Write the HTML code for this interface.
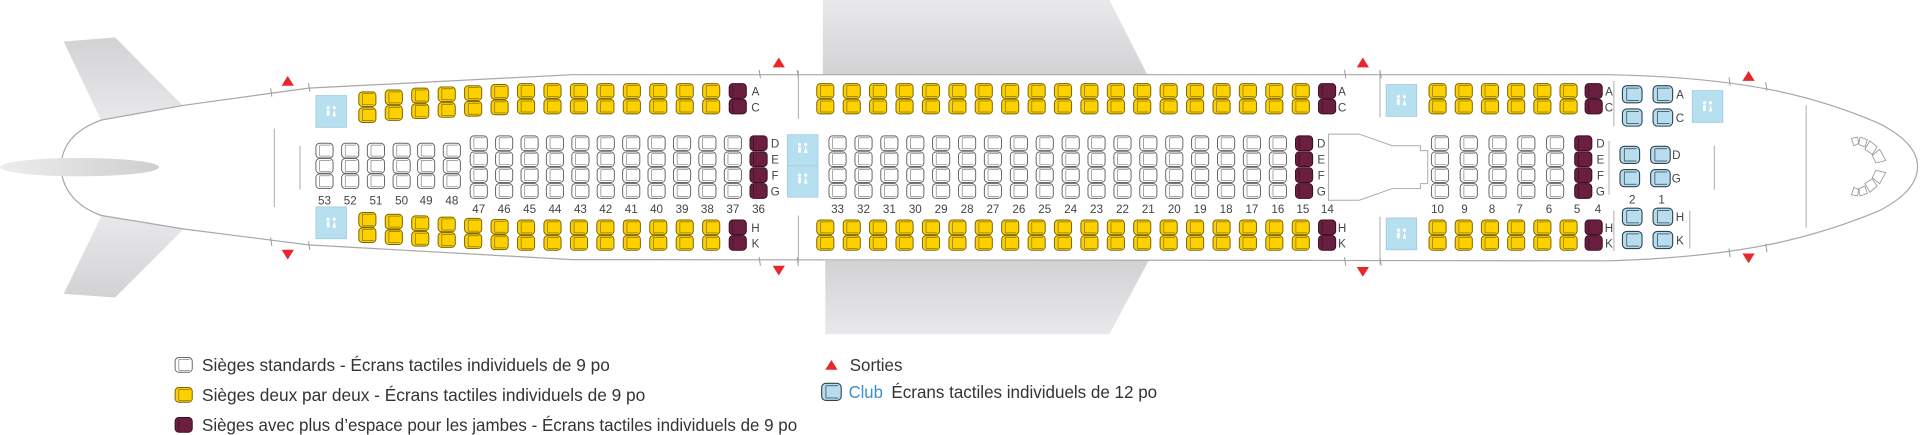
<!DOCTYPE html>
<html><head><meta charset="utf-8"><style>html,body{margin:0;padding:0;background:#fff}svg{display:block}</style></head>
<body>
<svg width="1920" height="435" viewBox="0 0 1568 355.25" xmlns="http://www.w3.org/2000/svg" xmlns:xlink="http://www.w3.org/1999/xlink" font-family="Liberation Sans, sans-serif">
<defs>
<linearGradient id="wg" x1="0" y1="0" x2="0" y2="1"><stop offset="0" stop-color="#e9e9eb"/><stop offset="1" stop-color="#d2d2d4"/></linearGradient>
<linearGradient id="wg2" x1="0" y1="1" x2="0" y2="0"><stop offset="0" stop-color="#e9e9eb"/><stop offset="1" stop-color="#d2d2d4"/></linearGradient>
<linearGradient id="eg" x1="0" y1="0" x2="1" y2="0"><stop offset="0" stop-color="#ececec"/><stop offset="1" stop-color="#cfcfcf"/></linearGradient>
<g id="sy"><rect x="-7" y="-6" width="14" height="12" rx="3" fill="#fdd000" stroke="#7a6500" stroke-width=".8"/><path d="M-4 -4.5v9M-4 -4.5h9M-4 4.5h9" fill="none" stroke="#8a7400" stroke-width=".6"/></g>
<g id="sp"><rect x="-7" y="-6" width="14" height="12" rx="3" fill="#6b1f40" stroke="#3a0c20" stroke-width=".8"/><path d="M-4 -4.5v9" fill="none" stroke="#3a0c20" stroke-width=".6"/></g>
<g id="sw"><rect x="-7" y="-6" width="14" height="12" rx="3" fill="#fff" stroke="#666" stroke-width=".8"/><path d="M-4 -4.5v9M-4 -4.5h9M-4 4.5h9" fill="none" stroke="#888" stroke-width=".6"/></g>
<g id="sc"><rect x="-8" y="-7" width="16" height="14" rx="3.5" fill="#b7ddef" stroke="#2c4350" stroke-width=".9"/><path d="M-4.5 -5v10M-4.5 -5h10M-4.5 5h10" fill="none" stroke="#2c4350" stroke-width=".6"/></g>
<g id="cY"><use xlink:href="#sy" y="74.3"/><use xlink:href="#sy" y="87"/><use xlink:href="#sy" y="185.7"/><use xlink:href="#sy" y="198.4"/></g>
<g id="cP"><use xlink:href="#sp" y="74.3"/><use xlink:href="#sp" y="87"/><use xlink:href="#sp" y="185.7"/><use xlink:href="#sp" y="198.4"/></g>
<g id="cW"><use xlink:href="#sw" y="117"/><use xlink:href="#sw" y="130"/><use xlink:href="#sw" y="143"/><use xlink:href="#sw" y="156"/></g>
<g id="cWP"><use xlink:href="#sp" y="117"/><use xlink:href="#sp" y="130"/><use xlink:href="#sp" y="143"/><use xlink:href="#sp" y="156"/></g>
<g id="cA"><use xlink:href="#sw" y="123"/><use xlink:href="#sw" y="135.5"/><use xlink:href="#sw" y="148"/></g>
<g id="lav"><rect x="0" y="0" width="25" height="26" fill="#b6dff0" stroke="#9cc7da" stroke-width=".6"/><g fill="#fff"><circle cx="10" cy="10" r="1.3"/><rect x="8.8" y="11.8" width="2.4" height="5" rx="1"/><circle cx="15" cy="10" r="1.3"/><path d="M13.5 17 L15 11.8 L16.5 17Z"/></g></g>
<path id="tu" d="M-5 4 L0 -4 L5 4Z" fill="#e8262b"/>
<path id="td" d="M-5 -4 L0 4 L5 -4Z" fill="#e8262b"/>
</defs>

<!-- wings and fins -->
<path d="M672 0 L906 0 L937 61 L672 61Z" fill="url(#wg)"/>
<path d="M674 213 L938 213 L906 273 L674 273Z" fill="url(#wg2)"/>
<path d="M52 34 L94 30.5 L150 87 L83 99Z" fill="url(#wg2)"/>
<path d="M83 176 L150 187 L94 243 L52 240Z" fill="url(#wg)"/>

<!-- fuselage -->
<path d="M83 98 C60 106 50 120 50 136 C50 152 60 168 83 176 L150 187 L252 200 L467 212 L1312 213 C1420 210 1480 195 1535 172 Q1566 156 1566 136 Q1566 117 1535 101 C1480 77 1420 63 1312 61 L467 61 L252 72 L150 86Z" fill="#fff" stroke="#a8a8a8" stroke-width="1"/>
<ellipse cx="65" cy="136.5" rx="65" ry="7.5" fill="url(#eg)"/>

<!-- ticks -->
<g stroke="#999" stroke-width=".8">
<path d="M221 72 l1 7M252 68 l1 7M221 194 l1 7M252 197 l1 7"/>
<path d="M620 57 l1 7M651 57 l1 7M620 210 l1 7M651 210 l1 7"/>
<path d="M1098 57 l1 7M1127 57 l1 7M1098 210 l1 7M1127 210 l1 7"/>
<path d="M1412 63 l1 7M1442 67 l1 7M1412 203 l1 7M1442 199 l1 7"/>
</g>
<!-- partitions -->
<g stroke="#aaa" stroke-width=".8">
<path d="M224 105 V169M245 119 V155"/>
<path d="M652 58 V97M652 176 V215"/>
<path d="M1127 57 V96M1127 177 V216"/>
<path d="M1318 66 V103M1318 172 V205M1314 115 V159"/>
<path d="M1380 172 V203M1400 119 V155"/>
<path d="M1475 86 V186"/>
</g>
<!-- galley -->
<path d="M1085 109.5 H1110 L1137 119 H1160 V123 H1166 V150 H1160 V154 H1137 L1110 163.5 H1085Z" fill="#fff" stroke="#aaa" stroke-width=".8"/>
<!-- cockpit seats -->
<g fill="#fff" stroke="#999" stroke-width=".7">
<path d="M1512 113 l5 -1 l1 5 l-4 2Z M1519 112 l6 2 l-2 6 l-5 -2Z M1527 115 l6 5 l-4 6 l-6 -4Z M1535 122 l5 9 l-8 2 l-3 -6Z"/>
<path d="M1512 159 l5 1 l1 -5 l-4 -2Z M1519 160 l6 -2 l-2 -6 l-5 2Z M1527 157 l6 -5 l-4 -6 l-6 4Z M1535 150 l5 -9 l-8 -2 l-3 6Z"/>
</g>

<!-- lavs -->
<use xlink:href="#lav" x="258" y="78"/>
<use xlink:href="#lav" x="258" y="169"/>
<rect x="643" y="110" width="25" height="51" fill="#b6dff0" stroke="#9cc7da" stroke-width=".6"/>
<line x1="643" y1="135.5" x2="668" y2="135.5" stroke="#9cc7da" stroke-width=".6"/>
<use xlink:href="#lav" x="643" y="110" transform="translate(0,0)" opacity="0"/>
<g fill="#fff"><circle cx="653" cy="118" r="1.3"/><rect x="651.8" y="119.8" width="2.4" height="5" rx="1"/><circle cx="658" cy="118" r="1.3"/><path d="M656.5 125 L658 119.8 L659.5 125Z"/><circle cx="653" cy="143" r="1.3"/><rect x="651.8" y="144.8" width="2.4" height="5" rx="1"/><circle cx="658" cy="143" r="1.3"/><path d="M656.5 150 L658 144.8 L659.5 150Z"/></g>
<use xlink:href="#lav" x="1132" y="69"/>
<use xlink:href="#lav" x="1132" y="178"/>
<use xlink:href="#lav" x="1382" y="74"/>

<!-- exits -->
<use xlink:href="#tu" x="235" y="66"/><use xlink:href="#td" x="235" y="208"/>
<use xlink:href="#tu" x="636" y="51"/><use xlink:href="#td" x="636" y="221"/>
<use xlink:href="#tu" x="1113" y="51"/><use xlink:href="#td" x="1113" y="222"/>
<use xlink:href="#tu" x="1428" y="62"/><use xlink:href="#td" x="1428" y="211"/>

<!-- aft rows 53-48 -->
<use xlink:href="#cA" x="265"/><use xlink:href="#cA" x="286"/><use xlink:href="#cA" x="307"/><use xlink:href="#cA" x="328"/><use xlink:href="#cA" x="348"/><use xlink:href="#cA" x="369"/>

<!-- aft top/bottom staggered -->
<use xlink:href="#sy" x="300" y="81"/><use xlink:href="#sy" x="300" y="94"/><use xlink:href="#sy" x="300" y="179.5"/><use xlink:href="#sy" x="300" y="192"/>
<use xlink:href="#sy" x="321.6" y="79.5"/><use xlink:href="#sy" x="321.6" y="92.3"/><use xlink:href="#sy" x="321.6" y="181"/><use xlink:href="#sy" x="321.6" y="193.7"/>
<use xlink:href="#sy" x="343.2" y="78"/><use xlink:href="#sy" x="343.2" y="90.8"/><use xlink:href="#sy" x="343.2" y="182.3"/><use xlink:href="#sy" x="343.2" y="195"/>
<use xlink:href="#sy" x="364.8" y="77"/><use xlink:href="#sy" x="364.8" y="89.8"/><use xlink:href="#sy" x="364.8" y="183.3"/><use xlink:href="#sy" x="364.8" y="196"/>
<use xlink:href="#sy" x="386.4" y="76"/><use xlink:href="#sy" x="386.4" y="88.8"/><use xlink:href="#sy" x="386.4" y="184.3"/><use xlink:href="#sy" x="386.4" y="197"/>
<use xlink:href="#sy" x="408" y="75"/><use xlink:href="#sy" x="408" y="87.7"/><use xlink:href="#sy" x="408" y="185.2"/><use xlink:href="#sy" x="408" y="197.9"/>
<use xlink:href="#cY" x="429.6"/><use xlink:href="#cY" x="451.2"/><use xlink:href="#cY" x="472.8"/><use xlink:href="#cY" x="494.4"/><use xlink:href="#cY" x="516"/><use xlink:href="#cY" x="537.6"/><use xlink:href="#cY" x="559.2"/><use xlink:href="#cY" x="580.8"/>
<use xlink:href="#cP" x="602.5"/>

<!-- aft middle -->
<use xlink:href="#cW" x="391"/><use xlink:href="#cW" x="411.7"/><use xlink:href="#cW" x="432.5"/><use xlink:href="#cW" x="453.2"/><use xlink:href="#cW" x="474"/><use xlink:href="#cW" x="494.7"/><use xlink:href="#cW" x="515.5"/><use xlink:href="#cW" x="536.2"/><use xlink:href="#cW" x="557"/><use xlink:href="#cW" x="577.7"/><use xlink:href="#cW" x="598.5"/>
<use xlink:href="#cWP" x="619.5"/>

<!-- mid top/bottom -->
<use xlink:href="#cY" x="674"/><use xlink:href="#cY" x="695.6"/><use xlink:href="#cY" x="717.1"/><use xlink:href="#cY" x="738.7"/><use xlink:href="#cY" x="760.3"/><use xlink:href="#cY" x="781.9"/><use xlink:href="#cY" x="803.4"/><use xlink:href="#cY" x="825"/><use xlink:href="#cY" x="846.6"/><use xlink:href="#cY" x="868.1"/><use xlink:href="#cY" x="889.7"/><use xlink:href="#cY" x="911.3"/><use xlink:href="#cY" x="932.8"/><use xlink:href="#cY" x="954.4"/><use xlink:href="#cY" x="976"/><use xlink:href="#cY" x="997.6"/><use xlink:href="#cY" x="1019.1"/><use xlink:href="#cY" x="1040.7"/><use xlink:href="#cY" x="1062.3"/>
<use xlink:href="#cP" x="1083.8"/>
<!-- mid middle -->
<use xlink:href="#cW" x="684"/><use xlink:href="#cW" x="705.2"/><use xlink:href="#cW" x="726.3"/><use xlink:href="#cW" x="747.5"/><use xlink:href="#cW" x="768.6"/><use xlink:href="#cW" x="789.8"/><use xlink:href="#cW" x="810.9"/><use xlink:href="#cW" x="832.1"/><use xlink:href="#cW" x="853.2"/><use xlink:href="#cW" x="874.4"/><use xlink:href="#cW" x="895.5"/><use xlink:href="#cW" x="916.7"/><use xlink:href="#cW" x="937.8"/><use xlink:href="#cW" x="959"/><use xlink:href="#cW" x="980.1"/><use xlink:href="#cW" x="1001.3"/><use xlink:href="#cW" x="1022.4"/><use xlink:href="#cW" x="1043.6"/>
<use xlink:href="#cWP" x="1065"/>

<!-- forward economy -->
<use xlink:href="#cY" x="1174"/><use xlink:href="#cY" x="1195.4"/><use xlink:href="#cY" x="1216.8"/><use xlink:href="#cY" x="1238.2"/><use xlink:href="#cY" x="1259.6"/><use xlink:href="#cY" x="1281"/>
<use xlink:href="#cP" x="1301.5"/>
<use xlink:href="#cW" x="1176"/><use xlink:href="#cW" x="1199.5"/><use xlink:href="#cW" x="1223"/><use xlink:href="#cW" x="1246.5"/><use xlink:href="#cW" x="1270"/>
<use xlink:href="#cWP" x="1293"/>

<!-- club -->
<use xlink:href="#sc" x="1333" y="77"/><use xlink:href="#sc" x="1358" y="77"/><use xlink:href="#sc" x="1333" y="96"/><use xlink:href="#sc" x="1358" y="96"/>
<use xlink:href="#sc" x="1331" y="126.5"/><use xlink:href="#sc" x="1356" y="126.5"/><use xlink:href="#sc" x="1331" y="145.5"/><use xlink:href="#sc" x="1356" y="145.5"/>
<use xlink:href="#sc" x="1333" y="177"/><use xlink:href="#sc" x="1358" y="177"/><use xlink:href="#sc" x="1333" y="196"/><use xlink:href="#sc" x="1358" y="196"/>

<!-- labels -->
<g font-size="9.5" fill="#444" text-anchor="middle">
<text x="265" y="167">53</text><text x="286" y="167">52</text><text x="307" y="167">51</text><text x="328" y="167">50</text><text x="348" y="167">49</text><text x="369" y="167">48</text>
<text x="391" y="174">47</text><text x="411.7" y="174">46</text><text x="432.5" y="174">45</text><text x="453.2" y="174">44</text><text x="474" y="174">43</text><text x="494.7" y="174">42</text><text x="515.5" y="174">41</text><text x="536.2" y="174">40</text><text x="557" y="174">39</text><text x="577.7" y="174">38</text><text x="598.5" y="174">37</text><text x="619.5" y="174">36</text>
<text x="684" y="174">33</text><text x="705.2" y="174">32</text><text x="726.3" y="174">31</text><text x="747.5" y="174">30</text><text x="768.6" y="174">29</text><text x="789.8" y="174">28</text><text x="810.9" y="174">27</text><text x="832.1" y="174">26</text><text x="853.2" y="174">25</text><text x="874.4" y="174">24</text><text x="895.5" y="174">23</text><text x="916.7" y="174">22</text><text x="937.8" y="174">21</text><text x="959" y="174">20</text><text x="980.1" y="174">19</text><text x="1001.3" y="174">18</text><text x="1022.4" y="174">17</text><text x="1043.6" y="174">16</text><text x="1064" y="174">15</text><text x="1084" y="174">14</text>
<text x="1174" y="174">10</text><text x="1196" y="174">9</text><text x="1218.5" y="174">8</text><text x="1241" y="174">7</text><text x="1265" y="174">6</text><text x="1288" y="174">5</text><text x="1305" y="174">4</text>
<text x="1333" y="166">2</text><text x="1357" y="166">1</text>
<!-- letters -->
<text x="617" y="78">A</text><text x="617" y="91">C</text><text x="617" y="189.5">H</text><text x="617" y="202">K</text>
<text x="633" y="120.5">D</text><text x="633" y="133.5">E</text><text x="633" y="146.5">F</text><text x="633" y="159.5">G</text>
<text x="1096" y="78">A</text><text x="1096" y="91">C</text><text x="1096" y="189.5">H</text><text x="1096" y="202">K</text>
<text x="1079" y="120.5">D</text><text x="1079" y="133.5">E</text><text x="1079" y="146.5">F</text><text x="1079" y="159.5">G</text>
<text x="1314" y="78">A</text><text x="1314" y="91">C</text><text x="1314" y="189.5">H</text><text x="1314" y="202">K</text>
<text x="1307" y="120.5">D</text><text x="1307" y="133.5">E</text><text x="1307" y="146.5">F</text><text x="1307" y="159.5">G</text>
<text x="1372" y="80.5">A</text><text x="1372" y="99.5">C</text><text x="1369" y="130">D</text><text x="1369" y="149">G</text><text x="1372" y="180.5">H</text><text x="1372" y="199.5">K</text>
</g>

<!-- legend -->
<use xlink:href="#sw" x="150" y="298"/>
<use xlink:href="#sy" x="150" y="322.5"/>
<use xlink:href="#sp" x="150" y="347"/>
<g font-size="14" fill="#333">
<text x="165" y="303" textLength="333" lengthAdjust="spacingAndGlyphs">Sièges standards - Écrans tactiles individuels de 9 po</text>
<text x="165" y="327.5" textLength="362" lengthAdjust="spacingAndGlyphs">Sièges deux par deux - Écrans tactiles individuels de 9 po</text>
<text x="165" y="352" textLength="486" lengthAdjust="spacingAndGlyphs">Sièges avec plus d’espace pour les jambes - Écrans tactiles individuels de 9 po</text>
<text x="694" y="303" textLength="43" lengthAdjust="spacingAndGlyphs">Sorties</text>
<text x="693" y="325" fill="#3a8fd0" textLength="28" lengthAdjust="spacingAndGlyphs">Club</text>
<text x="728" y="325" textLength="217" lengthAdjust="spacingAndGlyphs">Écrans tactiles individuels de 12 po</text>
</g>
<use xlink:href="#tu" x="679" y="298"/>
<use xlink:href="#sc" x="679" y="320"/>
</svg>
</body></html>
